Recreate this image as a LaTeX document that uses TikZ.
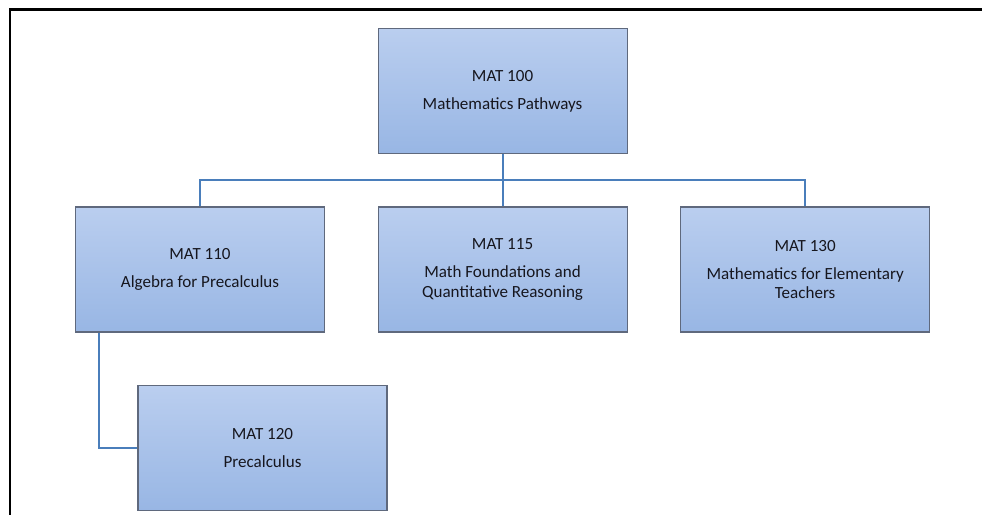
\documentclass[tikz,border=0pt]{standalone}
\usepackage{fontspec}
\setmainfont{Carlito}
\usetikzlibrary{positioning}
\definecolor{boxtop}{RGB}{186,206,239}
\definecolor{boxbot}{RGB}{152,182,228}
\definecolor{boxline}{RGB}{95,105,125}
\definecolor{linkblue}{RGB}{74,126,187}
\definecolor{txt}{RGB}{22,22,30}

\begin{document}
\begin{tikzpicture}[every node/.style={font=\fontsize{9.7}{11}\selectfont, text=txt},
	course/.style={draw=boxline, line width=0.6pt, top color=boxtop, bottom color=boxbot, minimum width=4.98cm, minimum height=2.5cm, align=center, inner sep=2pt},
	link/.style={linkblue, line width=1.1pt},
	node distance=1.05cm]
	\useasboundingbox (0,0) rectangle (19.64,10.28);
	\draw[line width=1.4pt] (0.2,-0.1) -- (0.2,10.09) -- (19.74,10.09);
	\node[course] (m110) at (4.0,4.89) {MAT 110\\[5pt]Algebra for Precalculus};
	\node[course, right=of m110] (m115) {MAT 115\\[5pt]Math Foundations and\\Quantitative Reasoning};
	\node[course, right=of m115] (m130) {MAT 130\\[5pt]Mathematics for Elementary\\Teachers};
	\node[course, above=of m115] (m100) {MAT 100\\[5pt]Mathematics Pathways};
	\node[course, below=of m110, xshift=1.25cm] (m120) {MAT 120\\[5pt]Precalculus};
	\coordinate[below=5.2mm of m100.south] (bus);
	\draw[link] (m100) -- (bus) -| (m110);
	\draw[link] (bus) -| (m130);
	\draw[link] (bus) -- (m115);
	\draw[link] ([xshift=4.8mm]m110.south west) |- (m120);
\end{tikzpicture}
\end{document}
